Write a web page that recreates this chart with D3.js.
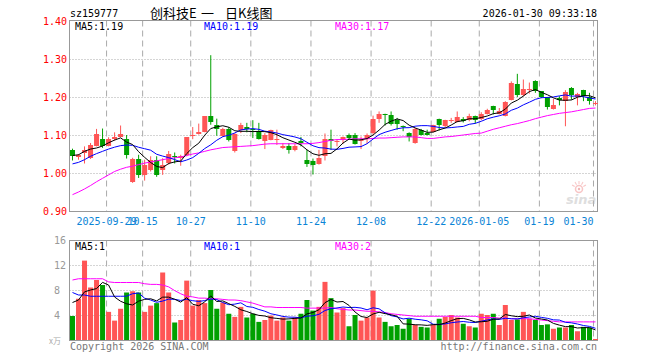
<!DOCTYPE html>
<html>
<head>
<meta charset="utf-8">
<script src="https://cdn.jsdelivr.net/npm/d3@7"></script>
<style>
  body { margin: 0; background: #fff; }
  text { font-family: "DejaVu Sans Mono", monospace; font-size: 10px; }
</style>
</head>
<body>
<div id="chart"></div>
<script>
// trading days shown on the chart
let dates = [
  "2025-09-19","2025-09-22","2025-09-23","2025-09-24","2025-09-25","2025-09-26","2025-09-29","2025-09-30",
  "2025-10-09","2025-10-10","2025-10-13","2025-10-14","2025-10-15","2025-10-16","2025-10-17","2025-10-20",
  "2025-10-21","2025-10-22","2025-10-23","2025-10-24","2025-10-27","2025-10-28","2025-10-29","2025-10-30",
  "2025-10-31","2025-11-03","2025-11-04","2025-11-05","2025-11-06","2025-11-07","2025-11-10","2025-11-11",
  "2025-11-12","2025-11-13","2025-11-14","2025-11-17","2025-11-18","2025-11-19","2025-11-20","2025-11-21",
  "2025-11-24","2025-11-25","2025-11-26","2025-11-27","2025-11-28","2025-12-01","2025-12-02","2025-12-03",
  "2025-12-04","2025-12-05","2025-12-08","2025-12-09","2025-12-10","2025-12-11","2025-12-12","2025-12-15",
  "2025-12-16","2025-12-17","2025-12-18","2025-12-19","2025-12-22","2025-12-23","2025-12-24","2025-12-25",
  "2025-12-26","2025-12-29","2025-12-30","2025-12-31","2026-01-05","2026-01-06","2026-01-07","2026-01-08",
  "2026-01-09","2026-01-12","2026-01-13","2026-01-14","2026-01-15","2026-01-16","2026-01-19","2026-01-20",
  "2026-01-21","2026-01-22","2026-01-23","2026-01-26","2026-01-27","2026-01-28","2026-01-29","2026-01-30"
];

let open = [
  1.061,1.043,1.053,1.039,1.072,1.090,1.072,1.090,1.096,1.090,
  0.976,1.038,0.994,1.007,1.035,1.009,1.026,1.046,1.040,1.048,
  1.098,1.103,1.109,1.149,1.125,1.097,1.116,1.057,1.114,1.120,
  1.116,1.111,1.083,1.088,1.086,1.065,1.070,1.060,1.084,1.035,
  1.031,1.025,1.044,1.090,1.082,1.086,1.101,1.099,1.084,1.090,
  1.104,1.143,1.154,1.153,1.139,1.123,1.105,1.079,1.114,1.105,
  1.108,1.143,1.123,1.138,1.135,1.143,1.139,1.149,1.142,1.156,
  1.177,1.156,1.151,1.193,1.235,1.204,1.219,1.242,1.215,1.200,
  1.169,1.197,1.190,1.224,1.200,1.219,1.200,1.183
];
let high = [
  1.064,1.050,1.070,1.079,1.116,1.117,1.094,1.107,1.125,1.100,
  1.040,1.048,1.035,1.044,1.044,1.039,1.058,1.054,1.048,1.094,
  1.121,1.130,1.149,1.310,1.143,1.119,1.121,1.105,1.132,1.132,
  1.139,1.132,1.105,1.114,1.114,1.079,1.079,1.076,1.095,1.061,
  1.038,1.061,1.104,1.114,1.088,1.096,1.104,1.105,1.096,1.104,
  1.151,1.162,1.156,1.162,1.145,1.125,1.107,1.119,1.116,1.114,
  1.127,1.143,1.140,1.145,1.162,1.147,1.156,1.151,1.160,1.169,
  1.177,1.171,1.189,1.241,1.261,1.246,1.238,1.244,1.215,1.200,
  1.195,1.202,1.218,1.226,1.211,1.219,1.211,1.189
];
let low = [
  1.033,1.035,1.025,1.037,1.070,1.066,1.070,1.085,1.094,1.038,
  0.974,0.987,0.980,1.004,0.990,0.995,1.022,1.025,1.019,1.044,
  1.089,1.101,1.107,1.127,1.098,1.095,1.083,1.054,1.105,1.107,
  1.092,1.088,1.063,1.086,1.074,1.063,1.051,1.057,1.070,1.016,
  0.996,1.022,1.033,1.061,1.070,1.077,1.088,1.075,1.063,1.077,
  1.101,1.132,1.125,1.125,1.114,1.110,1.083,1.077,1.099,1.099,
  1.107,1.112,1.121,1.132,1.133,1.133,1.136,1.130,1.139,1.154,
  1.154,1.154,1.149,1.191,1.200,1.202,1.209,1.211,1.197,1.167,
  1.167,1.178,1.123,1.193,1.178,1.189,1.180,1.178
];
let close = [
  1.044,1.047,1.061,1.074,1.103,1.070,1.090,1.096,1.103,1.048,
  1.037,0.996,1.022,1.035,0.996,1.022,1.050,1.043,1.046,1.094,
  1.101,1.108,1.149,1.133,1.116,1.116,1.088,1.103,1.125,1.117,
  1.112,1.090,1.100,1.112,1.090,1.072,1.060,1.070,1.078,1.025,
  1.020,1.040,1.090,1.083,1.085,1.096,1.092,1.077,1.087,1.101,
  1.143,1.156,1.152,1.130,1.130,1.122,1.095,1.116,1.101,1.101,
  1.125,1.125,1.140,1.140,1.147,1.136,1.151,1.140,1.156,1.167,
  1.167,1.162,1.188,1.237,1.204,1.221,1.221,1.215,1.200,1.173,
  1.180,1.191,1.213,1.204,1.209,1.202,1.189,1.185
];
// volume, in 10k units
let volume = [
  3.84,6.6,12.7,8.4,9.6,8.8,4.5,3.1,5.0,7.6,
  7.8,7.6,4.5,5.5,5.9,10.8,7.6,2.8,3.2,9.5,
  5.5,6.4,5.9,8.0,5.0,6.0,4.2,3.7,5.3,3.6,
  4.2,2.9,3.2,3.9,3.1,3.6,3.1,3.6,4.2,6.4,
  4.7,5.3,9.3,6.7,4.4,5.1,2.2,4.0,3.1,3.6,
  7.9,3.6,2.9,2.2,2.4,1.8,3.4,2.4,2.1,2.0,
  2.4,3.4,3.7,4.0,3.6,2.6,2.2,2.0,4.2,4.0,
  4.2,2.4,5.6,3.2,3.3,4.5,3.4,3.2,2.4,2.5,
  1.8,2.0,2.0,2.4,1.4,2.1,2.0,0.16
];
// MA30 needs history that is not on the chart, so it is read off the picture
let ma30 = [
  0.943,0.950,0.958,0.967,0.977,0.986,0.995,1.004,1.010,1.015,
  1.018,1.022,1.026,1.029,1.032,1.035,1.038,1.040,1.042,1.046,
  1.050,1.053,1.057,1.061,1.064,1.067,1.068,1.069,1.070,1.071,
  1.072,1.074,1.076,1.077,1.077,1.077,1.077,1.077,1.077,1.077,
  1.078,1.080,1.083,1.086,1.088,1.088,1.089,1.090,1.090,1.090,
  1.091,1.092,1.092,1.093,1.094,1.095,1.095,1.095,1.093,1.091,
  1.091,1.093,1.095,1.096,1.098,1.100,1.102,1.104,1.105,1.110,
  1.115,1.119,1.123,1.127,1.130,1.134,1.138,1.143,1.147,1.151,
  1.154,1.157,1.159,1.161,1.164,1.167,1.170,1.171
];
let volMa30 = [
  9.6,9.8,9.8,9.8,9.8,9.8,9.3,9.2,9.2,9.2,
  9.2,9.2,9.0,8.9,8.9,8.8,8.5,7.9,7.4,7.0,
  6.9,6.7,6.7,6.6,6.6,6.5,6.4,6.4,6.3,6.1,
  5.9,5.6,5.3,5.3,5.2,5.2,5.2,5.2,5.2,5.1,
  5.1,5.1,5.1,5.2,5.0,4.9,4.8,4.8,4.7,4.6,
  4.6,4.5,4.4,4.2,4.1,4.0,3.9,3.8,3.8,3.8,
  3.8,3.8,3.8,3.8,3.8,3.8,3.8,3.8,3.6,3.6,
  3.6,3.5,3.5,3.4,3.4,3.4,3.4,3.3,3.2,3.1,
  3.0,2.9,2.9,2.9,2.9,2.9,2.9,2.9
];
// first values of MA5 / MA10 (before a full window is on the chart)
let ma5Head = [1.046, 1.048, 1.057, 1.063];
let ma10Head = [1.024, 1.028, 1.035, 1.044, 1.051, 1.057, 1.063, 1.068, 1.072];
let volMa5Head = [6.0, 6.4, 7.7, 8.0];
let volMa10Head = [7.6, 7.2, 7.2, 7.0, 7.0, 7.0, 7.0, 7.0, 7.0];

let tickDates = ["2025-09-29","2025-10-15","2025-10-27","2025-11-10","2025-11-24",
  "2025-12-08","2025-12-22","2026-01-05","2026-01-19","2026-01-30"];
let tickLabels = ["2025-09-29","10-15","10-27","11-10","11-24",
  "12-08","12-22","2026-01-05","01-19","01-30"];
let priceTicks = [0.9, 1.0, 1.1, 1.2, 1.3, 1.4];
let volTicks = [4, 8, 12, 16];
let priceLegend = ["MA5:1.19", "MA10:1.19", "MA30:1.17"];
let volLegend = ["MA5:1", "MA10:1", "MA30:2"];

let width = 660;
let height = 360;
let left = 69.5;
let right = 597.5;

let red = "#ff5555";
let green = "#00a000";
let gridColor = "#aaaaaa";
let maColors = ["#000000", "#0000ff", "#ff00ff"];

function movingAvg(vals, n, head) {
  return vals.map((v, i) => i < n - 1 ? head[i] : d3.mean(vals.slice(i - n + 1, i + 1)));
}

let rows = dates.map((d, i) => ({
  date: d, o: open[i], h: high[i], l: low[i], c: close[i], v: volume[i]
}));
let ma5 = movingAvg(close, 5, ma5Head);
let ma10 = movingAvg(close, 10, ma10Head);
let volMa5 = movingAvg(volume, 5, volMa5Head);
let volMa10 = movingAvg(volume, 10, volMa10Head);

let svg = d3.select("#chart").append("svg")
  .attr("width", width)
  .attr("height", height);

// scales
let x = d3.scaleBand().domain(dates).range([70, 598]).paddingInner(1 / 6).paddingOuter(0).align(0);
let y = d3.scaleLinear().domain([0.9, 1.4]).range([211, 21]);
let yv = d3.scaleLinear().domain([0, 16]).range([340, 240]);
let cx = d => x(d) + 2.5;

function panel(top, bottom, yScale, ticks) {
  let g = svg.append("g");
  // horizontal dotted grid
  g.selectAll(".hg").data(ticks.filter(t => yScale(t) > top + 1 && yScale(t) < bottom - 1))
    .join("line")
    .attr("x1", left).attr("x2", right)
    .attr("y1", t => Math.round(yScale(t)) + 0.5).attr("y2", t => Math.round(yScale(t)) + 0.5)
    .attr("stroke", gridColor).attr("stroke-dasharray", "1,2");
  // vertical dashed grid
  g.selectAll(".vg").data(tickDates)
    .join("line")
    .attr("x1", d => x(d) + 0.5).attr("x2", d => x(d) + 0.5)
    .attr("y1", top).attr("y2", bottom)
    .attr("stroke", gridColor).attr("stroke-dasharray", "6,4");
  g.append("rect")
    .attr("x", left).attr("y", top)
    .attr("width", right - left).attr("height", bottom - top)
    .attr("fill", "none").attr("stroke", "#999");
  return g;
}

panel(20.5, 211.5, y, priceTicks);
panel(240.5, 340.5, yv, volTicks);

// watermark
let wm = svg.append("g").attr("opacity", 0.45);
wm.append("circle").attr("cx", 579).attr("cy", 189).attr("r", 3.5)
  .attr("fill", "none").attr("stroke", "#f08080").attr("stroke-width", 1.5);
wm.append("circle").attr("cx", 579).attr("cy", 189).attr("r", 1.2).attr("fill", "#e06060");
wm.selectAll(".ray").data([-60, -30, 0, 30, 60])
  .join("line")
  .attr("x1", 579).attr("y1", 184).attr("x2", 579).attr("y2", 181)
  .attr("transform", a => "rotate(" + a + ",579,189)")
  .attr("stroke", "#f08080");
wm.append("text").attr("x", 566).attr("y", 204)
  .text("sina")
  .style("font-family", "DejaVu Sans")
  .style("font-size", "13px")
  .style("font-style", "italic")
  .style("font-weight", "bold")
  .style("fill", "#b8b8b8");

// candles
let candles = svg.append("g");
candles.selectAll("line").data(rows)
  .join("line")
  .attr("x1", d => x(d.date) + 2.5).attr("x2", d => x(d.date) + 2.5)
  .attr("y1", d => y(d.h)).attr("y2", d => y(d.l))
  .attr("stroke", d => d.c >= d.o ? red : green);
candles.selectAll("rect").data(rows)
  .join("rect")
  .attr("x", d => x(d.date))
  .attr("width", x.bandwidth())
  .attr("y", d => Math.round(y(Math.max(d.o, d.c))))
  .attr("height", d => Math.max(1, Math.round(y(Math.min(d.o, d.c))) - Math.round(y(Math.max(d.o, d.c)))))
  .attr("fill", d => d.c >= d.o ? red : green);

// volume bars
svg.append("g").selectAll("rect").data(rows)
  .join("rect")
  .attr("x", d => x(d.date))
  .attr("width", x.bandwidth())
  .attr("y", d => yv(d.v))
  .attr("height", d => yv(0) - yv(d.v))
  .attr("fill", d => d.c >= d.o ? red : green);

// moving average lines
function maLine(vals, yScale, color) {
  let line = d3.line().x((v, i) => cx(dates[i])).y(v => yScale(v));
  svg.append("path")
    .attr("d", line(vals))
    .attr("fill", "none")
    .attr("stroke", color)
    .attr("stroke-width", 1);
}
maLine(ma30, y, maColors[2]);
maLine(ma10, y, maColors[1]);
maLine(ma5, y, maColors[0]);
maLine(volMa30, yv, maColors[2]);
maLine(volMa10, yv, maColors[1]);
maLine(volMa5, yv, maColors[0]);

// axis labels
svg.selectAll(".pl").data(priceTicks)
  .join("text")
  .attr("x", 43).attr("y", t => y(t) + 3.5)
  .text(t => t.toFixed(2))
  .style("fill", "#ff0000");
svg.selectAll(".vl").data(volTicks)
  .join("text")
  .attr("x", 54).attr("y", t => yv(t) + 3.5)
  .text(t => t)
  .style("fill", "#999");
svg.selectAll(".xl").data(tickDates)
  .join("text")
  .attr("x", d => x(d) + 0.5)
  .attr("y", 225)
  .attr("text-anchor", (d, i) => i === tickDates.length - 1 ? "end" : "middle")
  .text((d, i) => tickLabels[i])
  .style("fill", "#0a84d6");

// header
svg.append("text").attr("x", 70).attr("y", 16.5).text("sz159777").style("fill", "#000");
svg.append("text").attr("x", 597).attr("y", 16.5).attr("text-anchor", "end")
  .text("2026-01-30 09:33:18").style("fill", "#000");
let title = svg.append("text").attr("y", 17.5)
  .style("font-family", "'Noto Sans CJK SC', sans-serif")
  .style("font-size", "13px")
  .style("fill", "#000");
title.append("tspan").attr("x", 150).text("创科技E");
title.append("tspan").attr("x", 201).text("一");
title.append("tspan").attr("x", 225).text("日K线图");

// MA legends
let legendX = [75, 204, 335];
priceLegend.forEach((t, i) => svg.append("text").attr("x", legendX[i]).attr("y", 29.5).text(t).style("fill", maColors[i]));
volLegend.forEach((t, i) => svg.append("text").attr("x", legendX[i]).attr("y", 249.5).text(t).style("fill", maColors[i]));

// footer
svg.append("text").attr("x", 49).attr("y", 344).text("x万")
  .style("font-family", "'Noto Sans CJK SC', sans-serif").style("font-size", "8px").style("fill", "#aaa");
svg.append("text").attr("x", 70).attr("y", 350).text("Copyright 2026 SINA.COM").style("fill", "#777");
svg.append("text").attr("x", 597).attr("y", 350).attr("text-anchor", "end")
  .text("http://finance.sina.com.cn").style("fill", "#777");
</script>
</body>
</html>
